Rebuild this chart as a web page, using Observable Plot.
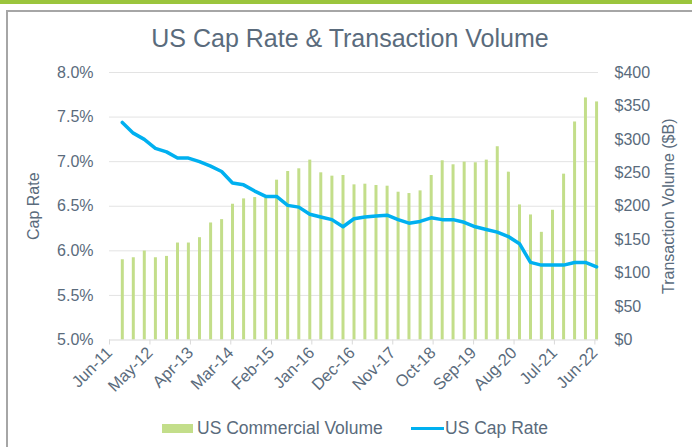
<!DOCTYPE html>
<html>
<head>
<meta charset="utf-8">
<script src="https://cdn.jsdelivr.net/npm/d3@7"></script>
<script src="https://cdn.jsdelivr.net/npm/@observablehq/plot@0.6"></script>
<style>
  html, body { margin: 0; padding: 0; background: #fff; }
  #wrap { position: relative; width: 692px; height: 447px; overflow: hidden; background: #fff;
          font-family: "Liberation Sans", Arial, sans-serif; color: #5A6B7C; }
  #topbar { position: absolute; left: 0; top: 0; width: 692px; height: 4px; background: #9BC53D; }
  #frame { position: absolute; left: 6px; top: 10px; width: 720px; height: 480px;
           border-left: 2px solid #A6A6A6; border-top: 2px solid #A6A6A6; }
  #title { position: absolute; left: 8px; top: 24px; width: 684px; text-align: center;
           font-size: 25px; line-height: 28px; }
  #chart { position: absolute; left: 0; top: 0; }
  .lg { position: absolute; font-size: 17.5px; line-height: 20px; white-space: nowrap; }
  .sw { position: absolute; }
</style>
</head>
<body>
<div id="wrap">
  <div id="topbar"></div>
  <div id="frame"></div>
  <div id="chart"></div>
  <div id="title">US Cap Rate &amp; Transaction Volume</div>
  <div class="sw" style="left:162px;top:424px;width:31px;height:9px;background:#C3DE8A"></div>
  <div class="lg" style="left:197px;top:418px">US Commercial Volume</div>
  <div class="sw" style="left:411px;top:427px;width:33px;height:3px;background:#00B0F0"></div>
  <div class="lg" style="left:445px;top:418px">US Cap Rate</div>
</div>
<script>
// Quarter-end months (Sep-11 .. Jun-22)
const quarters = [
  "Sep-11","Dec-11",
  "Mar-12","Jun-12","Sep-12","Dec-12",
  "Mar-13","Jun-13","Sep-13","Dec-13",
  "Mar-14","Jun-14","Sep-14","Dec-14",
  "Mar-15","Jun-15","Sep-15","Dec-15",
  "Mar-16","Jun-16","Sep-16","Dec-16",
  "Mar-17","Jun-17","Sep-17","Dec-17",
  "Mar-18","Jun-18","Sep-18","Dec-18",
  "Mar-19","Jun-19","Sep-19","Dec-19",
  "Mar-20","Jun-20","Sep-20","Dec-20",
  "Mar-21","Jun-21","Sep-21","Dec-21",
  "Mar-22","Jun-22"
];
// US Commercial Volume ($B)
const volume = [120,123,133,123,125,145,145,153,175,180,203,211,213,212,239,252,256,269,250,245,246,232,233,231,230,221,219,223,246,268,262,266,265,269,289,251,202,187,161,194,248,326,362,356];
// US Cap Rate (%)
const capRate = [7.44,7.32,7.25,7.15,7.11,7.04,7.04,7.00,6.95,6.89,6.76,6.74,6.67,6.61,6.61,6.51,6.49,6.41,6.38,6.35,6.27,6.36,6.38,6.39,6.40,6.35,6.31,6.33,6.37,6.35,6.35,6.32,6.27,6.24,6.21,6.16,6.08,5.87,5.84,5.84,5.84,5.87,5.87,5.82];
// x tick labels
const xTickLabels = ["Jun-11","May-12","Apr-13","Mar-14","Feb-15","Jan-16","Dec-16","Nov-17","Oct-18","Sep-19","Aug-20","Jul-21","Jun-22"];
const capTicks = [5.0,5.5,6.0,6.5,7.0,7.5,8.0];
const volTicks = [0,50,100,150,200,250,300,350,400];

const parse = d3.timeParse("%b-%y");
const fmt = d3.timeFormat("%b-%y");
// secondary axis mapping: $0..$400 onto 5%..8%
const volToY = v => 5 + v * 3 / 400;
const yToVol = y => Math.round((y - 5) * 400 / 3);

const data = quarters.map((q, i) => ({
  date: d3.timeDay.offset(parse(q), 14),
  volume: volume[i],
  rate: capRate[i]
}));
const tickDates = xTickLabels.map(parse);

const chart = Plot.plot({
  width: 692,
  height: 400,
  marginTop: 72,
  marginBottom: 60.5,
  marginLeft: 109,
  marginRight: 94,
  style: { background: "transparent", fontFamily: "Liberation Sans, Arial, sans-serif", fontSize: "16px", color: "#5A6B7C", overflow: "visible" },
  x: { type: "time", domain: [parse("Jun-11"), parse("Jul-22")] },
  y: { domain: [5, 8] },
  marks: [
    Plot.gridY(capTicks.filter(d => d > 5), { stroke: "#E3E3E3", strokeOpacity: 1 }),
    Plot.ruleX(data, { x: "date", y1: 5, y2: d => volToY(d.volume), stroke: "#C3DE8A", strokeWidth: 3 }),
    Plot.ruleY([5], { stroke: "#D9D9D9", strokeWidth: 1 }),
    Plot.axisX({ ticks: tickDates, tickFormat: fmt, tickRotate: -45, tickSize: 5, tickPadding: 5,
                 stroke: "#D9D9D9", fill: "#5A6B7C", fontSize: 16.5, label: null }),
    Plot.axisY(capTicks, { anchor: "left", tickFormat: d => d.toFixed(1) + "%", tickSize: 0, tickPadding: 16,
                 fill: "#5A6B7C", label: "Cap Rate", labelAnchor: "center", labelArrow: "none", labelOffset: 82 }),
    Plot.axisY(volTicks.map(volToY), { anchor: "right", tickFormat: d => "$" + yToVol(d), tickSize: 0, tickPadding: 16,
                 fill: "#5A6B7C", label: "Transaction Volume ($B)", labelAnchor: "center", labelArrow: "none", labelOffset: 75 }),
    Plot.line(data, { x: "date", y: "rate", stroke: "#00B0F0", strokeWidth: 3.5, strokeLinejoin: "round" })
  ]
});
document.getElementById("chart").appendChild(chart);
</script>
</body>
</html>
